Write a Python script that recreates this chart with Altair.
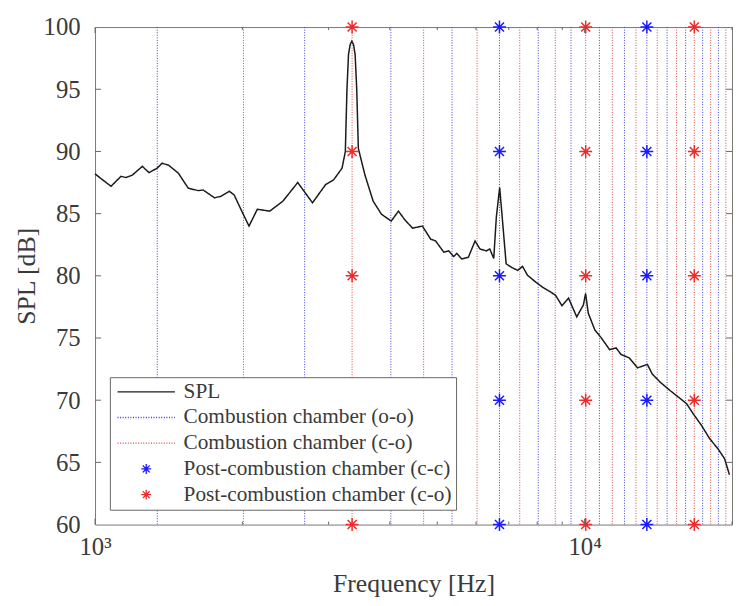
import altair as alt
import pandas as pd

# ---- SPL spectrum ----
freq_hz = [1000, 1022, 1078, 1130, 1156, 1192, 1249, 1289, 1339, 1370, 1413, 1480, 1550, 1624,
           1663, 1754, 1809, 1880, 1924, 2001, 2063, 2145, 2274, 2419, 2594, 2781, 2957, 3073,
           3195, 3245, 3270, 3294, 3320, 3346, 3372, 3398, 3424, 3450, 3559, 3699, 3846, 4027,
           4166, 4284, 4451, 4662, 4848, 4962, 5157, 5277, 5401, 5483, 5612, 5790, 5973, 6112,
           6302, 6401, 6522, 6601, 6706, 6787, 6913, 7075, 7298, 7469, 7644, 7943, 8195, 8516,
           8716, 8989, 9273, 9636, 9940, 10046, 10172, 10488, 10819, 11243, 11598, 11869, 12334,
           12823, 13433, 13746, 14286, 14965, 15552, 16169, 16668, 17329, 18009, 18718, 19310, 19764]
spl_db = [88.2, 87.9, 87.2, 88.0, 87.9, 88.1, 88.8, 88.3, 88.65, 89.05, 88.9, 88.25, 87.05, 86.85,
          86.9, 86.27, 86.4, 86.8, 86.5, 85.07, 84.0, 85.35, 85.2, 86.0, 87.5, 85.87, 87.33, 87.73,
          88.65, 89.98, 95.0, 97.8, 98.6, 98.86, 98.6, 97.8, 95.0, 90.24, 88.1, 86.0, 84.95, 84.4,
          85.2, 84.55, 83.83, 84.0, 82.95, 82.8, 81.9, 82.0, 81.55, 81.8, 81.35, 81.5, 82.8, 82.16,
          82.0, 82.16, 81.4, 84.7, 87.1, 84.7, 80.97, 80.7, 80.44, 80.76, 80.04, 79.5, 79.1, 78.7,
          78.45, 77.6, 78.2, 76.7, 77.65, 78.58, 77.0, 75.66, 75.0, 74.07, 74.2, 73.67, 73.4,
          72.6, 72.88, 72.1, 71.43, 70.76, 70.24, 69.7, 68.9, 67.97, 66.9, 66.1, 65.3, 64.0]

# ---- acoustic mode frequencies ----
oo_modes_hz = [1340, 2680, 4020, 5360, 6700, 8040, 9380, 10720, 12060, 13400, 14740, 16080,
               17420, 18760]
co_modes_hz = [2010, 3350, 4690, 6030, 7370, 8710, 10050, 11390, 12730, 14070, 15410, 16750,
               18090, 19430]
post_cc_hz = [6700, 13400]
post_co_hz = [3350, 10050, 16750]
star_levels_db = [60, 70, 80, 90, 100]

y_tick_values = [60, 65, 70, 75, 80, 85, 90, 95, 100]
x_major_ticks = [1000, 10000]
x_minor_ticks = [2000, 3000, 4000, 5000, 6000, 7000, 8000, 9000, 20000]

SERIES = ["SPL", "Combustion chamber (o-o)", "Combustion chamber (c-o)",
          "Post-combustion chamber (c-c)", "Post-combustion chamber (c-o)"]
COLORS = ["#1a1a1a", "#3c3cd2", "#d24646", "#1a1aff", "#ee2a2a"]
LINE_PATH = "M-5.8,0L5.8,0"
STAR_PATH = "M-1,0L1,0M0,-1L0,1M-0.7,-0.7L0.7,0.7M-0.7,0.7L0.7,-0.7"
SHAPES = [LINE_PATH, LINE_PATH, LINE_PATH, STAR_PATH, STAR_PATH]
DASHES = [[1, 0], [1, 1.6], [1, 1.6], [1, 0], [1, 0]]

FONT = "Liberation Serif"
TXT = "#3a3a3a"
W, H = 644, 503

spl_df = pd.DataFrame({"f": freq_hz, "db": spl_db, "series": SERIES[0]})
modes_df = pd.DataFrame({
    "f": oo_modes_hz + co_modes_hz,
    "series": [SERIES[1]] * len(oo_modes_hz) + [SERIES[2]] * len(co_modes_hz),
})
stars = []
for f in post_cc_hz:
    for d in star_levels_db:
        stars.append({"f": f, "db": d, "series": SERIES[3]})
for f in post_co_hz:
    for d in star_levels_db:
        stars.append({"f": f, "db": d, "series": SERIES[4]})
stars_df = pd.DataFrame(stars)

x_scale = alt.Scale(type="log", domain=[1000, 20000], nice=False)
y_scale = alt.Scale(domain=[60, 100], nice=False, zero=False)
stroke_scale = alt.Scale(domain=SERIES, range=COLORS)
shape_scale = alt.Scale(domain=SERIES, range=SHAPES)
dash_scale = alt.Scale(domain=SERIES, range=DASHES)

legend = alt.Legend(
    title=None, orient="none", legendX=15, legendY=354,
    fillColor="white", strokeColor="#666", padding=4,
    labelFont=FONT, labelFontSize=21.5, labelColor=TXT, labelLimit=400,
    symbolSize=100, symbolOffset=22, labelOffset=27, rowPadding=3,
    symbolStrokeWidth=1.3, symbolFillColor="transparent",
)

x_axis = alt.Axis(
    title="Frequency [Hz]", values=x_major_ticks,
    labelExpr="datum.value == 1000 ? '10³' : '10⁴'",
    grid=False, ticks=False, domain=False, labelPadding=10, labelFlush=False,
    labelFont=FONT, labelFontSize=25, labelColor=TXT,
    titleFont=FONT, titleFontSize=26, titleFontWeight="normal", titleColor=TXT, titlePadding=12,
)
y_axis = alt.Axis(
    title="SPL [dB]", values=y_tick_values,
    grid=False, ticks=False, domain=False, labelPadding=15,
    labelFont=FONT, labelFontSize=25, labelColor=TXT,
    titleFont=FONT, titleFontSize=26, titleFontWeight="normal", titleColor=TXT, titlePadding=4,
)

modes = alt.Chart(modes_df).mark_rule(strokeWidth=1).encode(
    x=alt.X("f:Q", scale=x_scale, axis=x_axis),
    stroke=alt.Stroke("series:N", scale=stroke_scale, legend=legend),
    strokeDash=alt.StrokeDash("series:N", scale=dash_scale, legend=legend),
)

spl = alt.Chart(spl_df).mark_line(strokeWidth=1.5).encode(
    x=alt.X("f:Q", scale=x_scale, axis=x_axis),
    y=alt.Y("db:Q", scale=y_scale, axis=y_axis),
    stroke=alt.Stroke("series:N", scale=stroke_scale, legend=legend),
    strokeDash=alt.StrokeDash("series:N", scale=dash_scale, legend=legend),
)

star_pts = alt.Chart(stars_df).mark_point(filled=False, size=170, strokeWidth=1.5, opacity=1).encode(
    x=alt.X("f:Q", scale=x_scale),
    y=alt.Y("db:Q", scale=y_scale),
    stroke=alt.Stroke("series:N", scale=stroke_scale, legend=legend),
    shape=alt.Shape("series:N", scale=shape_scale, legend=legend),
)

tick_color = "#666"
ytick_df = pd.DataFrame({"db": y_tick_values[1:-1]})
xmaj_df = pd.DataFrame({"f": x_major_ticks})
xmin_df = pd.DataFrame({"f": x_minor_ticks})

yt_left = alt.Chart(ytick_df).mark_rule(color=tick_color).encode(
    y=alt.Y("db:Q", scale=y_scale), x=alt.value(0), x2=alt.value(6))
yt_right = alt.Chart(ytick_df).mark_rule(color=tick_color).encode(
    y=alt.Y("db:Q", scale=y_scale), x=alt.value(W - 6), x2=alt.value(W))
xt_maj_b = alt.Chart(xmaj_df).mark_rule(color=tick_color).encode(
    x=alt.X("f:Q", scale=x_scale), y=alt.value(H), y2=alt.value(H - 6))
xt_min_b = alt.Chart(xmin_df).mark_rule(color=tick_color).encode(
    x=alt.X("f:Q", scale=x_scale), y=alt.value(H), y2=alt.value(H - 3))
xt_maj_t = alt.Chart(xmaj_df).mark_rule(color=tick_color).encode(
    x=alt.X("f:Q", scale=x_scale), y=alt.value(0), y2=alt.value(6))
xt_min_t = alt.Chart(xmin_df).mark_rule(color=tick_color).encode(
    x=alt.X("f:Q", scale=x_scale), y=alt.value(0), y2=alt.value(3))

chart = alt.layer(
    modes, spl, star_pts, yt_left, yt_right, xt_maj_b, xt_min_b, xt_maj_t, xt_min_t
).resolve_scale(
    stroke="shared", shape="shared", strokeDash="shared"
).properties(
    width=W, height=H,
    padding={"left": 88, "top": 16, "right": 1, "bottom": 74},
    autosize=alt.AutoSizeParams(type="none"),
    background="white",
).configure_view(
    stroke="#777", strokeWidth=1
)

chart.save("out.html", embed_options={"renderer": "svg", "actions": False})
